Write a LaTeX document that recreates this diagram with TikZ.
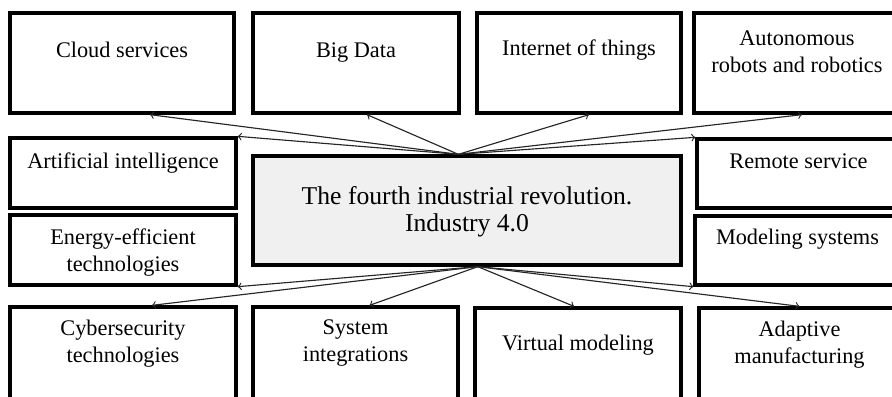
\documentclass[tikz,border=0pt]{standalone}
\usepackage{fontspec}
\setmainfont{Liberation Serif}
\usetikzlibrary{positioning,calc}
\definecolor{hubfill}{RGB}{240,240,240}

\begin{document}
\begin{tikzpicture}[x=0.02cm,y=-0.02cm,
  tile/.style={draw,line width=1.9pt,fill=white,inner sep=0pt},
  caption/.style={align=center,inner sep=0pt,font=\fontsize{12.7}{15.3}\selectfont},
  link/.style={->,line width=0.65pt,draw=black!85}]
\useasboundingbox (0,0) rectangle (892,396);
\clip (0,0) rectangle (892,396);
% top row
\node[tile,minimum width=4.48cm,minimum height=2cm] (cloud) at (122,63) {};
\node[tile,minimum width=4.12cm,minimum height=2cm] (bigdata) at (356,63) {};
\node[tile,minimum width=4.08cm,minimum height=2cm] (iot) at (579,63) {};
\node[tile,minimum width=4.12cm,minimum height=2cm] (robots) at (797,63) {};
% middle row
\node[tile,minimum width=4.52cm,minimum height=1.4cm] (ai) at (123,173) {};
\node[tile,minimum width=4.52cm,minimum height=1.4cm] (energy) at (123,250) {};
\node[tile,fill=hubfill,minimum width=8.56cm,minimum height=2.18cm] (hub) at (467,210.5) {};
\node[tile,minimum width=4.06cm,minimum height=1.38cm] (remote) at (798.5,173.5) {};
\node[tile,minimum width=4.1cm,minimum height=1.38cm] (modeling) at (797.5,250.5) {};
% bottom row
\node[tile,minimum width=4.52cm,minimum height=2.26cm] (cyber) at (123,363.5) {};
\node[tile,minimum width=4.1cm,minimum height=2.26cm] (sysint) at (355.5,363.5) {};
\node[tile,minimum width=4.12cm,minimum height=2.24cm] (virtual) at (578,364) {};
\node[tile,minimum width=4.02cm,minimum height=2.24cm] (adaptive) at (799.5,364) {};

% texts
\node[caption] (cloudtxt) at ($(cloud.north)+(0,39)$) {Cloud services};
\node[caption] (bigdatatxt) at ($(bigdata.north)+(0,41)$) {Big Data};
\node[caption] (iottxt) at ($(iot.north)+(0,39)$) {Internet of things};
\node[caption] (robotstxt) at ($(robots.north)+(0,40.5)$) {Autonomous\\robots and robotics};
\node[caption] (aitxt) at ($(ai.north)+(0,26.5)$) {Artificial intelligence};
\node[caption] (energytxt) at ($(energy.center)+(0,2.5)$) {Energy-efficient\\technologies};
\node[caption,font=\fontsize{14.6}{15.3}\selectfont] (hubtxt) at ($(hub.center)+(0,1)$) {The fourth industrial revolution.\\Industry 4.0};
\node[caption] (remotetxt) at ($(remote.north)+(0,23.5)$) {Remote service};
\node[caption] (modelingtxt) at ($(modeling.north)+(0,24.5)$) {Modeling systems};
\node[caption] (cybertxt) at ($(cyber.north)+(0,38)$) {Cybersecurity\\technologies};
\node[caption] (sysinttxt) at ($(sysint.north)+(0,38)$) {System\\integrations};
\node[caption] (virtualtxt) at ($(virtual.north)+(0,38.5)$) {Virtual modeling};
\node[caption] (adaptivetxt) at ($(adaptive.north)+(0,38)$) {Adaptive\\manufacturing};

% arrows
\coordinate (up) at ($(hub.north west)!0.48!(hub.north east)$);
\coordinate (down) at ($(hub.south west)!0.525!(hub.south east)$);
\draw[link] (up) -- ($(cloud.south)+(28,0)$);
\draw[link] (up) -- ($(bigdata.south)+(11,0)$);
\draw[link] (up) -- ($(iot.south)+(10,0)$);
\draw[link] (up) -- ($(robots.south)+(5,0)$);
\draw[link] (up) -- (ai.north east);
\draw[link] (up) -- (remote.north west);
\draw[link] (down) -- (energy.south east);
\draw[link] (down) -- ($(cyber.north)+(29,0)$);
\draw[link] (down) -- ($(sysint.north)+(14,0)$);
\draw[link] (down) -- ($(virtual.north)+(-4,0)$);
\draw[link] (down) -- (modeling.south west);
\draw[link] (down) -- (adaptive.north);
\end{tikzpicture}
\end{document}
